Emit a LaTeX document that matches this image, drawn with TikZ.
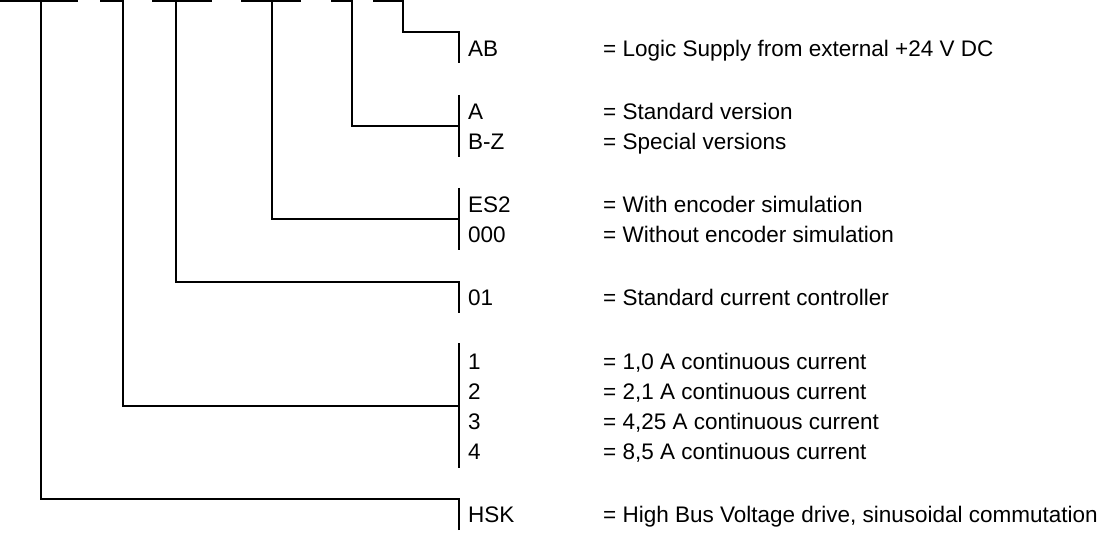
\documentclass[tikz,border=0pt]{standalone}
\usepackage{fontspec}
\setmainfont{Liberation Sans}
\begin{document}
\begin{tikzpicture}[x=1pt,y=-1pt,
  ln/.style={line width=2.4pt, line join=miter},
  keytxt/.style={anchor=base west, inner sep=0pt, font=\fontsize{22.5}{27}\selectfont},
  desctxt/.style={anchor=base west, inner sep=0pt, font=\fontsize{22.5}{27}\selectfont}]
\useasboundingbox (0,0) rectangle (1112,540);
\def\ty{1.3}
\def\dx{603}
% --- texts (baseline = row centre + 8)
\node[keytxt] (kAB) at (468,57) {AB};
\node[desctxt] (dAB) at (\dx,57) {= Logic Supply from external +24 V DC};
\node[keytxt] (kA) at (468,120) {A};
\node[desctxt] (dA) at (\dx,120) {= Standard version};
\node[keytxt] (kBZ) at (468,150) {B-Z};
\node[desctxt] (dBZ) at (\dx,150) {= Special versions};
\node[keytxt] (kES) at (468,213) {ES2};
\node[desctxt] (dES) at (\dx,213) {= With encoder simulation};
\node[keytxt] (k000) at (468,243) {000};
\node[desctxt] (d000) at (\dx,243) {= Without encoder simulation};
\node[keytxt] (k01) at (468,306) {01};
\node[desctxt] (d01) at (\dx,306) {= Standard current controller};
\node[keytxt] (k1) at (468,369) {1};
\node[desctxt] (d1) at (\dx,369) {= 1,0 A continuous current};
\node[keytxt] (k2) at (468,399) {2};
\node[desctxt] (d2) at (\dx,399) {= 2,1 A continuous current};
\node[keytxt] (k3) at (468,429) {3};
\node[desctxt] (d3) at (\dx,429) {= 4,25 A continuous current};
\node[keytxt] (k4) at (468,459) {4};
\node[desctxt] (d4) at (\dx,459) {= 8,5 A continuous current};
\node[keytxt] (kHSK) at (468,522) {HSK};
\node[desctxt] (dHSK) at (\dx,522) {= High Bus Voltage drive, sinusoidal commutation};
% --- bracket coordinates
\coordinate (bABt) at (459,32);   \coordinate (bABb) at (459,63);
\coordinate (bAt) at (459,95);    \coordinate (bAb) at (459,157);   \coordinate (bAm) at (459,126);
\coordinate (bEt) at (459,188);   \coordinate (bEb) at (459,250);   \coordinate (bEm) at (459,219);
\coordinate (b01t) at (459,282);  \coordinate (b01b) at (459,313);
\coordinate (bCt) at (459,343);   \coordinate (bCb) at (459,468);   \coordinate (bCm) at (459,406);
\coordinate (bHt) at (459,499);   \coordinate (bHb) at (459,530);
% --- top segments
\coordinate (s1a) at (0,\ty);   \coordinate (s1b) at (78,\ty);  \coordinate (s1v) at (41,\ty);
\coordinate (s2a) at (100,\ty); \coordinate (s2b) at (123,\ty);
\coordinate (s3a) at (152,\ty); \coordinate (s3b) at (212,\ty); \coordinate (s3v) at (176,\ty);
\coordinate (s4a) at (241,\ty); \coordinate (s4b) at (301,\ty); \coordinate (s4v) at (272,\ty);
\coordinate (s5a) at (331,\ty); \coordinate (s5b) at (352,\ty);
\coordinate (s6a) at (373,\ty); \coordinate (s6b) at (403,\ty);
% --- brackets
\draw[ln] (bABb) -- (bABt) -| (s6b) -- (s6a);
\draw[ln] (bAt) -- (bAb);
\draw[ln] (s5a) -- (s5b) |- (bAm);
\draw[ln] (bEt) -- (bEb);
\draw[ln] (s4a) -- (s4b);
\draw[ln] (s4v) |- (bEm);
\draw[ln] (b01b) -- (b01t) -| (s3v);
\draw[ln] (s3a) -- (s3b);
\draw[ln] (bCt) -- (bCb);
\draw[ln] (s2a) -- (s2b) |- (bCm);
\draw[ln] (bHb) -- (bHt) -| (s1v);
\draw[ln] (s1a) -- (s1b);
\end{tikzpicture}
\end{document}
